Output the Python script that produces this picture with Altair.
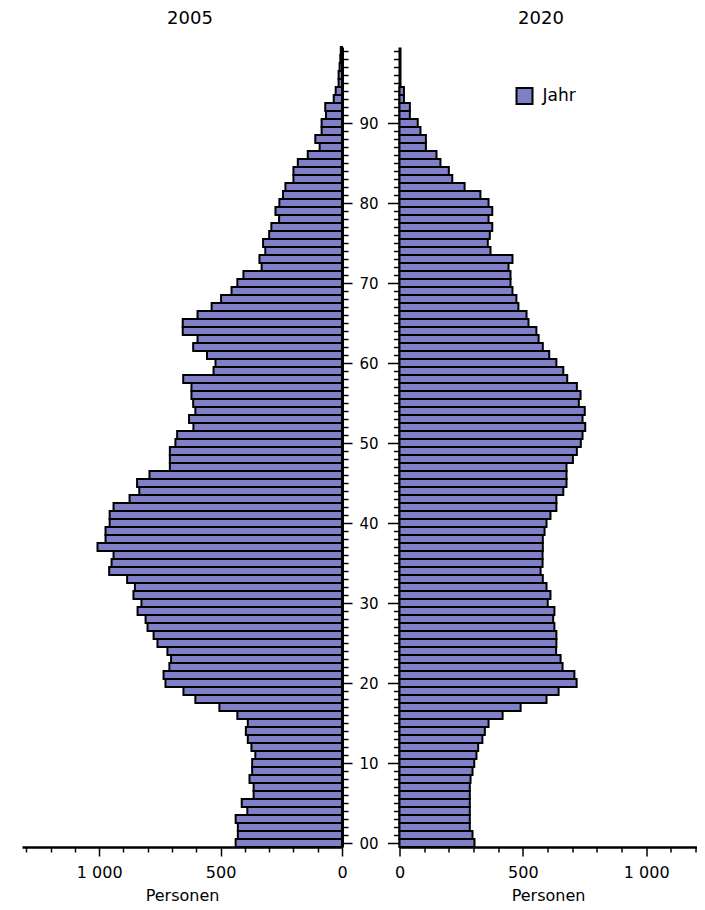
import altair as alt
import pandas as pd

# ---------------- data ----------------
ages = list(range(100))

pop_2005 = [
    438, 429, 429, 438, 390, 413, 364, 364, 381, 370,
    370, 357, 373, 388, 396, 388, 431, 505, 604, 653,
    727, 735, 711, 704, 719, 760, 776, 801, 809, 842,
    826, 859, 853, 885, 959, 949, 941, 1007, 974, 974,
    957, 957, 941, 875, 835, 844, 793, 709, 709, 709,
    686, 679, 612, 630, 604, 613, 620, 620, 654, 529,
    521, 556, 613, 595, 656, 656, 595, 537, 498, 455,
    431, 406, 331, 340, 316, 325, 300, 291, 259, 274,
    258, 243, 233, 200, 200, 182, 141, 92, 110, 84,
    84, 66, 69, 34, 26, 14, 14, 10, 7, 5,
]

pop_2020 = [
    304, 296, 285, 285, 285, 285, 285, 285, 288, 296,
    303, 312, 319, 336, 346, 361, 418, 491, 596, 645,
    718, 709, 661, 653, 635, 636, 636, 628, 623, 628,
    601, 612, 596, 581, 572, 580, 580, 581, 581, 588,
    596, 612, 636, 636, 664, 677, 677, 677, 703, 719,
    735, 742, 753, 742, 751, 727, 734, 719, 680, 664,
    636, 607, 581, 564, 555, 523, 515, 482, 474, 458,
    450, 450, 442, 458, 369, 358, 366, 376, 361, 376,
    361, 328, 264, 214, 200, 166, 150, 107, 107, 85,
    74, 42, 42, 18, 18, 0, 0, 0, 0, 0,
]

panel_titles = ["2005", "2020"]
legend_label = "Jahr"
x_title = "Personen"
x_ticks_left = list(range(0, 1400, 100))
x_ticks_right = list(range(0, 1300, 100))
age_ticks = ages

# ---------------- styling ----------------
FONT = "DejaVu Sans"
BAR = "#8080C8"

df05 = pd.DataFrame({"age": ages, "value": pop_2005, "series": legend_label})
df20 = pd.DataFrame({"age": ages, "value": pop_2020, "series": legend_label})

x_label_expr = ("datum.value === 1000 ? '1 000' : "
                "(datum.value % 500 === 0 ? '' + datum.value : '')")
y_label_expr = ("datum.value % 10 === 0 ? "
                "(datum.value < 10 ? '0' + datum.value : '' + datum.value) : ''")

x_tick_size = {"condition": {"test": "datum.value % 500 === 0", "value": 9}, "value": 5}
yl_tick_size = {"condition": {"test": "datum.value % 10 === 0", "value": 10}, "value": 6}
yr_tick_size = {"condition": {"test": "datum.value % 10 === 0", "value": 12}, "value": 6}

y_scale = alt.Scale(domain=[-0.5, 99.5], nice=False, zero=False)


def x_axis(values):
    return alt.Axis(
        values=values, title=x_title, labelExpr=x_label_expr,
        tickSize=x_tick_size, tickWidth=1.5, tickColor="black",
        domainColor="black", domainWidth=2.5, grid=False,
        labelFont=FONT, labelFontSize=16, labelColor="black",
        labelPadding=8, labelOverlap=False, labelFlush=False,
        titleFont=FONT, titleFontSize=16, titleFontWeight="normal",
        titleColor="black", titlePadding=7,
    )


def base(df):
    return (
        alt.Chart(df)
        .transform_filter("datum.value > 0")
        .transform_calculate(lo="datum.age - 0.5", hi="datum.age + 0.5", zero="0")
    )


left = (
    base(df05)
    .mark_rect(fill=BAR, stroke="black", strokeWidth=2)
    .encode(
        x=alt.X("value:Q",
                scale=alt.Scale(domain=[0, 1318], reverse=True, nice=False),
                axis=x_axis(x_ticks_left)),
        x2="zero:Q",
        y=alt.Y("lo:Q", scale=y_scale,
                axis=alt.Axis(orient="right", values=age_ticks, title=None,
                              labelExpr=y_label_expr, tickSize=yl_tick_size,
                              tickWidth=1.5, tickColor="black",
                              domainColor="black", domainWidth=3, grid=False,
                              labelFont=FONT, labelFontSize=15, labelColor="black",
                              labelPadding=7, labelOverlap=False, labelFlush=False,
                              labelBaseline="middle")),
        y2="hi:Q",
    )
    .properties(
        width=320, height=800,
        title=alt.TitleParams(panel_titles[0], font=FONT, fontSize=18,
                              fontWeight="normal", color="black", offset=17,
                              dx=8, dy=1),
    )
)

right = (
    base(df20)
    .mark_rect(stroke="black", strokeWidth=2)
    .encode(
        x=alt.X("value:Q",
                scale=alt.Scale(domain=[0, 1204], nice=False),
                axis=x_axis(x_ticks_right)),
        x2="zero:Q",
        y=alt.Y("lo:Q", scale=y_scale,
                axis=alt.Axis(orient="left", values=age_ticks, title=None,
                              labels=False, tickSize=yr_tick_size,
                              tickWidth=1.5, tickColor="black",
                              domainColor="black", domainWidth=3, grid=False)),
        y2="hi:Q",
        color=alt.Color("series:N", scale=alt.Scale(range=[BAR]),
                        legend=alt.Legend(orient="none", legendX=116, legendY=40,
                                          title=None, padding=0,
                                          symbolType="square", symbolSize=256,
                                          symbolStrokeColor="black",
                                          symbolStrokeWidth=2, symbolFillColor=BAR,
                                          labelFont=FONT, labelFontSize=17,
                                          labelColor="black", labelOffset=9)),
    )
    .properties(
        width=297, height=800,
        title=alt.TitleParams(panel_titles[1], font=FONT, fontSize=18,
                              fontWeight="normal", color="black", offset=17,
                              dx=-7, dy=-2),
    )
)

chart = (
    alt.hconcat(left, right, spacing=57.5, bounds="flush")
    .resolve_scale(x="independent", y="independent", color="independent")
    .resolve_legend(color="independent")
    .properties(padding={"left": 14, "top": 2, "right": 0, "bottom": 0},
                background="white")
    .configure_view(stroke=None)
)

chart.save("out.html", embed_options={"renderer": "svg", "actions": False})
